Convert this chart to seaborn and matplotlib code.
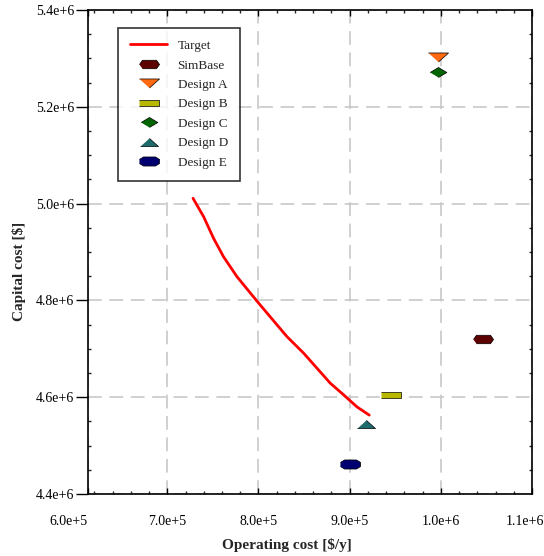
import numpy as np
import pandas as pd
import matplotlib.pyplot as plt
import matplotlib.transforms as mtransforms
from matplotlib.ticker import FixedLocator
from matplotlib.lines import Line2D
import seaborn as sns

sns.set_theme(style="white")
plt.rcParams['font.family'] = ['Liberation Serif', 'DejaVu Serif']

# target curve (operating cost, capital cost)
target_x = [7.282e5, 7.398e5, 7.508e5, 7.617e5, 7.764e5, 7.99e5, 8.129e5,
            8.313e5, 8.495e5, 8.641e5, 8.787e5, 8.933e5, 9.08e5, 9.215e5]
target_y = [5.011e6, 4.973e6, 4.928e6, 4.890e6, 4.849e6, 4.797e6, 4.766e6,
            4.725e6, 4.691e6, 4.660e6, 4.629e6, 4.605e6, 4.580e6, 4.563e6]

# design points
names = ["SimBase", "Design A", "Design B", "Design C", "Design D", "Design E"]
op_cost = [1.046e6, 0.997e6, 9.45e5, 0.997e6, 9.18e5, 9.0e5]
cap_cost = [4.72e6, 5.303e6, 4.604e6, 5.272e6, 4.544e6, 4.463e6]
colors = ["#5c0000", "#ff6a10", "#b8b800", "#006400", "#1e6b6b", "#000070"]

x_ticks = [6.13e5, 7e5, 8e5, 9e5, 1.0e6, 1.1e6]
x_tick_labels = ["6.0e+5", "7.0e+5", "8.0e+5", "9.0e+5", "1.0e+6", "1.1e+6"]
y_ticks = [4.4e6, 4.6e6, 4.8e6, 5.0e6, 5.2e6, 5.4e6]
y_tick_labels = ["4.4e+6", "4.6e+6", "4.8e+6", "5.0e+6", "5.2e+6", "5.4e+6"]

# marker outlines (wide shapes)
shapes = {
    "SimBase": [(-1, 0), (-0.7, 0.42), (0.7, 0.42), (1, 0), (0.7, -0.42), (-0.7, -0.42)],
    "Design A": [(-1, 0.45), (1, 0.45), (0, -0.45)],
    "Design B": [(-1, -0.33), (1, -0.33), (1, 0.33), (-1, 0.33)],
    "Design C": [(-1, 0), (0, 0.6), (1, 0), (0, -0.6)],
    "Design D": [(-1, -0.45), (1, -0.45), (0, 0.45)],
    "Design E": [(-1, -0.2), (-0.6, -0.45), (0.6, -0.45), (1, -0.2), (1, 0.2),
                 (0.6, 0.45), (-0.6, 0.45), (-1, 0.2)],
}
msize = {"SimBase": 14.5, "Design A": 14.5, "Design B": 14, "Design C": 12,
         "Design D": 13, "Design E": 14.5}

fig = plt.figure(figsize=(5.44, 5.56), dpi=100)
ax = fig.add_axes([88 / 544, 62 / 556, 444 / 544, 484 / 556])

line_df = pd.DataFrame({"x": target_x, "y": target_y})
sns.lineplot(data=line_df, x="x", y="y", color="red", lw=2, ax=ax, sort=False)

pts = pd.DataFrame({"name": names, "x": op_cost, "y": cap_cost})
for n, c in zip(names, colors):
    sns.scatterplot(data=pts[pts["name"] == n], x="x", y="y", marker=shapes[n],
                    s=msize[n] ** 2, color=c, edgecolor="black", linewidth=0.5,
                    ax=ax, zorder=3)

ax.set_xlim(6.13e5, 1.1e6)
ax.set_ylim(4.4e6, 5.4e6)
ax.xaxis.set_major_locator(FixedLocator(x_ticks))
ax.set_xticklabels(x_tick_labels)
ax.xaxis.set_minor_locator(FixedLocator(np.arange(6.2e5, 1.1e6, 2e4)))
ax.yaxis.set_major_locator(FixedLocator(y_ticks))
ax.set_yticklabels(y_tick_labels)
ax.yaxis.set_minor_locator(FixedLocator(np.arange(4.45e6, 5.4e6, 5e4)))

ax.grid(True, which="major", color="#c4c4c4", linestyle=(0, (9, 5)), lw=1.1)
for s in ax.spines.values():
    s.set_color("black")
    s.set_linewidth(1.2)

ax.tick_params(axis="x", which="major", direction="in", length=4, width=1,
               top=True, bottom=True, pad=15, labelsize=10, colors="black")
ax.tick_params(axis="x", which="minor", direction="in", length=2.5, width=1,
               top=True, bottom=True)
ax.tick_params(axis="y", which="major", direction="out", length=9, width=1,
               left=True, right=False, pad=1, labelsize=10, colors="black")
ax.tick_params(axis="y", which="minor", direction="in", length=2.5, width=1,
               left=True, right=True)

# keep the edge labels inside the figure
xl = ax.get_xticklabels()
xl[0].set_transform(xl[0].get_transform() + mtransforms.ScaledTranslation(-0.2, 0, fig.dpi_scale_trans))
xl[-1].set_transform(xl[-1].get_transform() + mtransforms.ScaledTranslation(-0.07, 0, fig.dpi_scale_trans))

ax.set_xlabel(r"Operating cost [\$/y]", fontsize=11, fontweight="bold")
ax.xaxis.set_label_coords(0.448, -0.09)
ax.set_ylabel(r"Capital cost [\$]", fontsize=11, fontweight="bold")
ax.yaxis.set_label_coords(-0.14, 0.459)

handles = [Line2D([], [], color="red", lw=2)]
for n, c in zip(names, colors):
    handles.append(Line2D([], [], ls="none", marker=shapes[n], markersize=msize[n],
                          markerfacecolor=c, markeredgecolor="black", markeredgewidth=0.5))
leg = ax.legend(handles, ["Target"] + names, loc="upper left",
                bbox_to_anchor=(0.068, 0.963), borderaxespad=0, fontsize=9.5,
                frameon=True, fancybox=False, handlelength=2.8, labelspacing=0.55,
                handletextpad=0.8, borderpad=0.9)
leg.get_frame().set_edgecolor("black")
leg.get_frame().set_linewidth(1.2)

fig.savefig("out.png", dpi=100)
